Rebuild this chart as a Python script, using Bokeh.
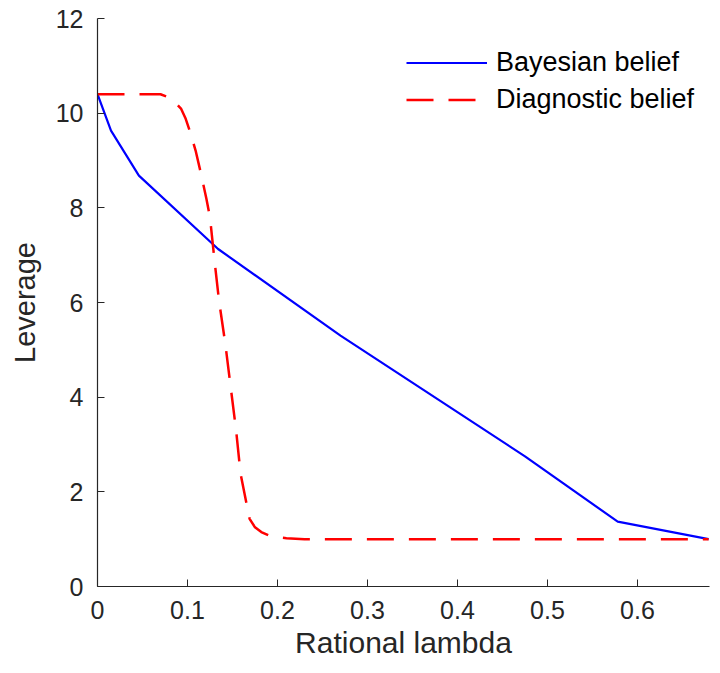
from bokeh.plotting import figure
from bokeh.models import Legend, LegendItem, FixedTicker, Range1d
from bokeh.embed import file_html
from bokeh.resources import INLINE

# Data
bayes_x = [0.0, 0.015, 0.046, 0.134, 0.27, 0.475, 0.578, 0.679]
bayes_y = [10.4, 9.63, 8.68, 7.13, 5.30, 2.75, 1.37, 1.0]

diag_x = [0.0, 0.07, 0.077, 0.085, 0.093, 0.098, 0.103, 0.109, 0.115, 0.121,
          0.125, 0.13, 0.135, 0.142, 0.148, 0.154, 0.159, 0.164, 0.169, 0.175,
          0.182, 0.19, 0.2, 0.21, 0.23, 0.679]
diag_y = [10.4, 10.4, 10.35, 10.25, 10.09, 9.88, 9.6, 9.21, 8.72, 8.19,
          7.8, 6.89, 6.04, 5.13, 4.21, 3.3, 2.38, 1.9, 1.43, 1.25,
          1.15, 1.08, 1.04, 1.02, 1.0, 1.0]

x_ticks = [0, 0.1, 0.2, 0.3, 0.4, 0.5, 0.6]
x_tick_labels = ["0", "0.1", "0.2", "0.3", "0.4", "0.5", "0.6"]
y_ticks = [0, 2, 4, 6, 8, 10, 12]

FONT = "Liberation Sans"
TXT = "#262626"

p = figure(width=720, height=673, output_backend="svg", toolbar_location=None,
           x_range=Range1d(0, 0.68), y_range=Range1d(0, 12),
           min_border_left=97, min_border_right=11, min_border_top=18,
           min_border_bottom=87)
p.outline_line_color = None
p.xgrid.visible = False
p.ygrid.visible = False

r1 = p.line(bayes_x, bayes_y, line_color="#0000FF", line_width=2.2)
r2 = p.line(diag_x, diag_y, line_color="#FF0000", line_width=2.5, line_dash="27 15")

for ax in (p.xaxis[0], p.yaxis[0]):
    ax.axis_line_color = TXT
    ax.axis_line_width = 1.2
    ax.major_tick_line_color = TXT
    ax.major_tick_in = 7
    ax.major_tick_out = 0
    ax.minor_tick_line_color = None
    ax.major_label_text_font = FONT
    ax.major_label_text_font_size = "25px"
    ax.major_label_text_color = TXT
    ax.axis_label_text_font = FONT
    ax.axis_label_text_font_size = "29px"
    ax.axis_label_text_font_style = "normal"
    ax.axis_label_text_color = TXT

p.xaxis.ticker = FixedTicker(ticks=x_ticks)
p.xaxis.major_label_overrides = {t: l for t, l in zip(x_ticks, x_tick_labels)}
p.xaxis.major_label_standoff = 14
p.xaxis.axis_label = "Rational lambda"
p.xaxis.axis_label_text_font_size = "30px"
p.xaxis.axis_label_standoff = 4

p.yaxis.ticker = FixedTicker(ticks=y_ticks)
p.yaxis.major_label_standoff = 14
p.yaxis.axis_label = "Leverage"
p.yaxis.axis_label_standoff = 12

legend = Legend(items=[LegendItem(label="Bayesian belief", renderers=[r1]),
                       LegendItem(label="Diagnostic belief", renderers=[r2])],
                location=(309, 468))
legend.border_line_color = None
legend.background_fill_alpha = 0
legend.padding = 0
legend.margin = 0
legend.spacing = 0
legend.glyph_width = 81
legend.glyph_height = 37
legend.label_height = 37
legend.label_standoff = 9
legend.label_text_font = FONT
legend.label_text_font_size = "27px"
legend.label_text_color = "#000000"
p.add_layout(legend)

open("out.html", "w").write(file_html(p, INLINE))
